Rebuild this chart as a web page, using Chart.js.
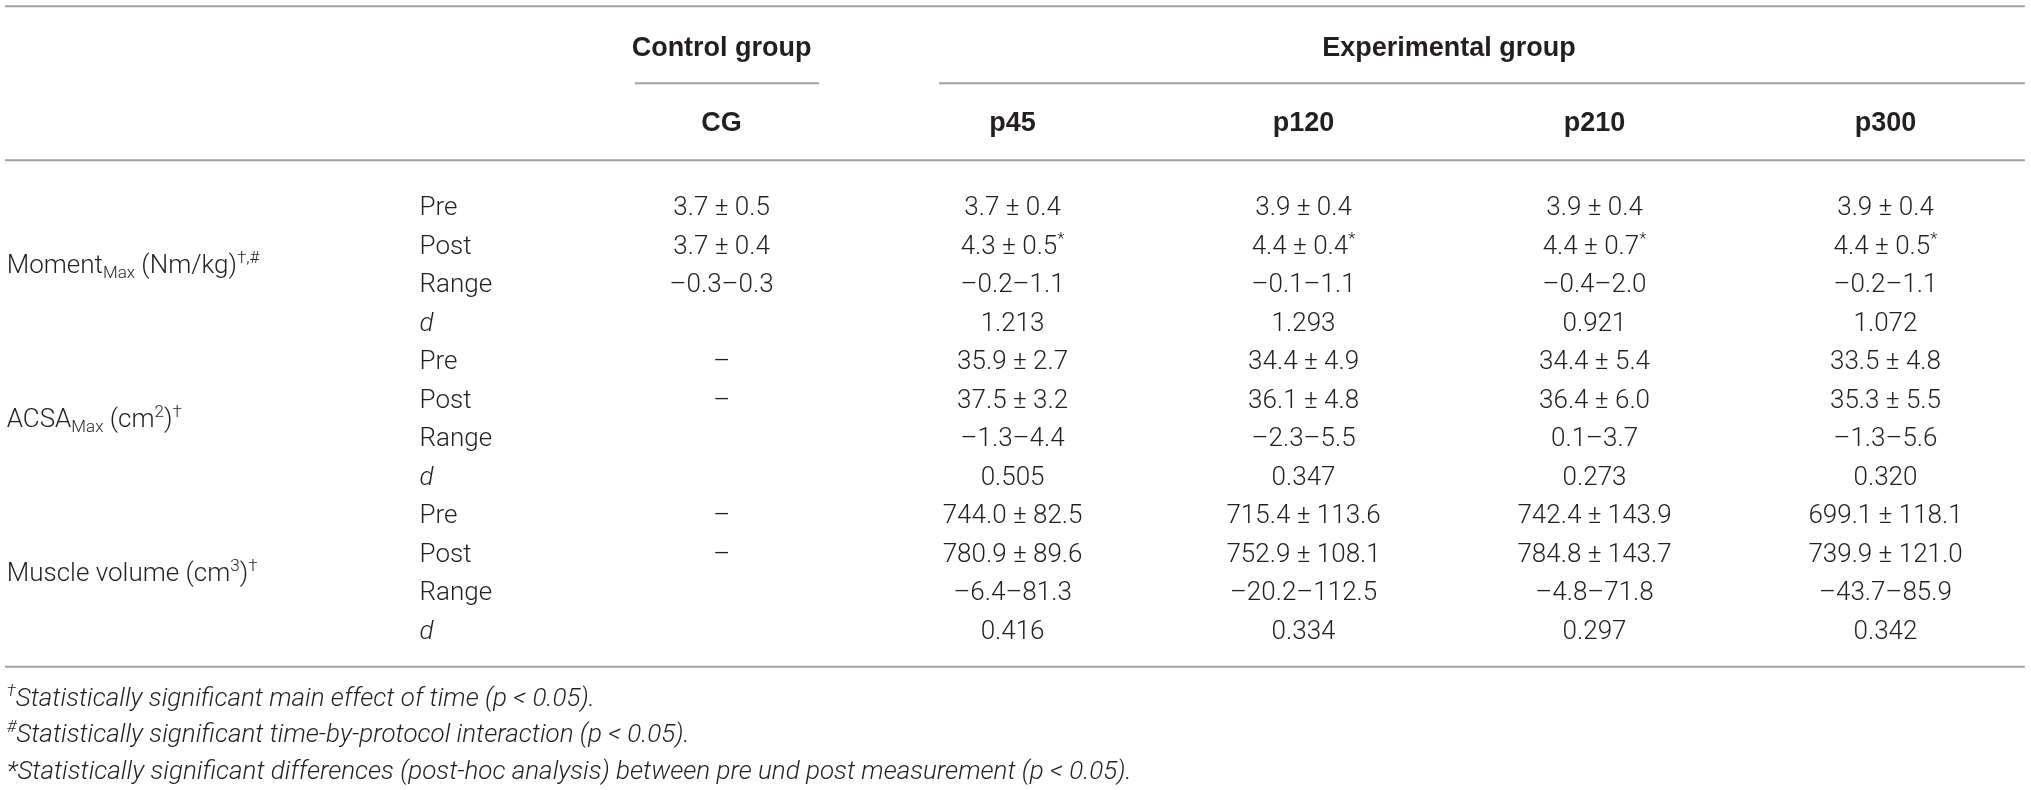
<!DOCTYPE html>
<html lang="en">
<head>
  <meta charset="UTF-8" />
  <title>table</title>
  <script src="https://cdn.jsdelivr.net/npm/chart.js"></script>
<style>
  body {
    margin: 0;
    background-color: #ffffff;
  }
  canvas {
    display: block;
  }
</style>
</head>
<body>

  <canvas id="chart" width="2031" height="790"></canvas>

  <script>
    const groups = ['CG', 'p45', 'p120', 'p210', 'p300'];
    const stats = ['Pre', 'Post', 'Range', 'd'];

    const momentPreMean = [3.7, 3.7, 3.9, 3.9, 3.9];
    const momentPreSd = [0.5, 0.4, 0.4, 0.4, 0.4];
    const momentPostMean = [3.7, 4.3, 4.4, 4.4, 4.4];
    const momentPostSd = [0.4, 0.5, 0.4, 0.7, 0.5];
    const momentPostSig = [false, true, true, true, true];
    const momentRange = [[-0.3, 0.3], [-0.2, 1.1], [-0.1, 1.1], [-0.4, 2.0], [-0.2, 1.1]];
    const momentD = [null, 1.213, 1.293, 0.921, 1.072];

    const acsaPreMean = [null, 35.9, 34.4, 34.4, 33.5];
    const acsaPreSd = [null, 2.7, 4.9, 5.4, 4.8];
    const acsaPostMean = [null, 37.5, 36.1, 36.4, 35.3];
    const acsaPostSd = [null, 3.2, 4.8, 6.0, 5.5];
    const acsaRange = [null, [-1.3, 4.4], [-2.3, 5.5], [0.1, 3.7], [-1.3, 5.6]];
    const acsaD = [null, 0.505, 0.347, 0.273, 0.320];

    const volPreMean = [null, 744.0, 715.4, 742.4, 699.1];
    const volPreSd = [null, 82.5, 113.6, 143.9, 118.1];
    const volPostMean = [null, 780.9, 752.9, 784.8, 739.9];
    const volPostSd = [null, 89.6, 108.1, 143.7, 121.0];
    const volRange = [null, [-6.4, 81.3], [-20.2, 112.5], [-4.8, 71.8], [-43.7, 85.9]];
    const volD = [null, 0.416, 0.334, 0.297, 0.342];

    const measureLabels = [
      [{ t: 'Moment' }, { t: 'Max', sub: true }, { t: ' (Nm/kg)' }, { t: '†,#', sup: true }],
      [{ t: 'ACSA' }, { t: 'Max', sub: true }, { t: ' (cm' }, { t: '2', sup: true }, { t: ')' }, { t: '†', sup: true }],
      [{ t: 'Muscle volume (cm' }, { t: '3', sup: true }, { t: ')' }, { t: '†', sup: true }]
    ];
    const footnotes = [
      [{ t: '†', sup: true }, { t: 'Statistically significant main effect of time (p < 0.05).' }],
      [{ t: '#', sup: true }, { t: 'Statistically significant time-by-protocol interaction (p < 0.05).' }],
      [{ t: '*Statistically significant differences (post-hoc analysis) between pre und post measurement (p < 0.05).' }]
    ];

    // --- layout (in scale units: x = column index, y = row index) ---
    const FAM = 'Roboto, "Liberation Sans", sans-serif';
    const HEAD_FAM = '"Liberation Sans", Arial, sans-serif';
    const INK = '#231f20';
    const RULE = '#a0a0a0';
    const labelX = -2.457, statX = -1.038;
    const leftX = -2.463, rightX = 4.479;
    const topRuleY = -5.19, groupY = -4.13, subRuleY = -3.19, headY = -2.18, headRuleY = -1.19, bottomRuleY = 11.97;
    const footY = [12.75, 13.69, 14.65];

    function fmt(v, dec) {
      return (v < 0 ? '–' : '') + Math.abs(v).toFixed(dec);
    }
    function meanSd(m, s) {
      return m == null ? '–' : fmt(m, 1) + ' ± ' + fmt(s, 1);
    }
    function range(r) {
      return r == null ? '' : fmt(r[0], 1) + '–' + fmt(r[1], 1);
    }

    const blocks = [
      [momentPreMean, momentPreSd, momentPostMean, momentPostSd, momentRange, momentD, momentPostSig],
      [acsaPreMean, acsaPreSd, acsaPostMean, acsaPostSd, acsaRange, acsaD, null],
      [volPreMean, volPreSd, volPostMean, volPostSd, volRange, volD, null]
    ];

    // one point per table cell
    const cells = [];
    blocks.forEach((b, m) => {
      groups.forEach((g, c) => {
        const r0 = m * 4;
        cells.push({ x: c, y: r0, segs: [{ t: meanSd(b[0][c], b[1][c]) }] });
        const post = [{ t: meanSd(b[2][c], b[3][c]) }];
        if (b[6] && b[6][c]) post.push({ t: '*', sup: true });
        cells.push({ x: c, y: r0 + 1, segs: post });
        cells.push({ x: c, y: r0 + 2, segs: [{ t: range(b[4][c]) }] });
        cells.push({ x: c, y: r0 + 3, segs: [{ t: b[5][c] == null ? '' : b[5][c].toFixed(3) }] });
      });
    });

    const headCells = groups.map((g, c) => ({ x: c, y: headY, segs: [{ t: g }], bold: true }));
    headCells.push({ x: 0, y: groupY, segs: [{ t: 'Control group' }], bold: true });
    headCells.push({ x: 2.5, y: groupY, segs: [{ t: 'Experimental group' }], bold: true });

    const statCells = [];
    measureLabels.forEach((lab, m) => {
      stats.forEach((s, i) => {
        statCells.push({ x: statX, y: m * 4 + i, segs: [{ t: s, italic: s === 'd' }], align: 'left' });
      });
    });
    const rowLabels = measureLabels.map((lab, m) => ({ x: labelX, y: m * 4 + 1.5, segs: lab, align: 'left' }));
    const footCells = footnotes.map((f, i) => ({
      x: labelX, y: footY[i], segs: f.map(s => Object.assign({ italic: true }, s)), align: 'left'
    }));

    const rules = [
      [leftX, rightX, topRuleY],
      [-0.298, 0.335, subRuleY],
      [0.747, rightX, subRuleY],
      [leftX, rightX, headRuleY],
      [leftX, rightX, bottomRuleY]
    ];

    // --- rich text drawing ---
    const FS = 26;
    function segFont(s, bold) {
      if (bold) return '700 27px ' + HEAD_FAM;
      const size = (s.sub || s.sup) ? 17 : FS;
      return (s.italic ? 'italic ' : '') + '300 ' + size + 'px ' + FAM;
    }
    function drawRich(ctx, segs, x, y, align, bold) {
      let w = 0;
      segs.forEach(s => { ctx.font = segFont(s, bold); w += ctx.measureText(s.t).width; });
      let cx = align === 'left' ? x : x - w / 2;
      const base = y + FS * 0.355;
      segs.forEach(s => {
        ctx.font = segFont(s, bold);
        const dy = s.sub ? 5 : (s.sup ? -10 : 0);
        ctx.fillText(s.t, cx, base + dy);
        cx += ctx.measureText(s.t).width;
      });
    }

    const textPlugin = {
      id: 'cellText',
      afterDatasetsDraw(chart) {
        const ctx = chart.ctx;
        ctx.save();
        ctx.fillStyle = INK;
        ctx.textAlign = 'left';
        ctx.textBaseline = 'alphabetic';
        chart.data.datasets.forEach((ds, i) => {
          if (ds.type !== 'scatter') return;
          const meta = chart.getDatasetMeta(i);
          meta.data.forEach((el, j) => {
            const d = ds.data[j];
            drawRich(ctx, d.segs, el.x, el.y, d.align || 'center', d.bold);
          });
        });
        ctx.restore();
      }
    };

    const textSet = (data) => ({ type: 'scatter', data: data, pointRadius: 0, pointHoverRadius: 0 });

    const datasets = [
      textSet(cells),
      textSet(headCells),
      textSet(statCells),
      textSet(rowLabels),
      textSet(footCells)
    ];
    rules.forEach(r => {
      datasets.push({
        type: 'line',
        data: [{ x: r[0], y: r[2] }, { x: r[1], y: r[2] }],
        borderColor: RULE,
        borderWidth: 2,
        pointRadius: 0,
        fill: false
      });
    });

    new Chart(document.getElementById('chart').getContext('2d'), {
      type: 'scatter',
      data: { datasets: datasets },
      options: {
        responsive: false,
        animation: false,
        devicePixelRatio: 1,
        layout: { padding: 0 },
        plugins: { legend: { display: false }, tooltip: { enabled: false } },
        scales: {
          x: { type: 'linear', min: -2.48, max: 4.50, display: false },
          y: { type: 'linear', min: -5.35, max: 15.17, reverse: true, display: false }
        }
      },
      plugins: [textPlugin]
    });
  </script>
</body>
</html>
